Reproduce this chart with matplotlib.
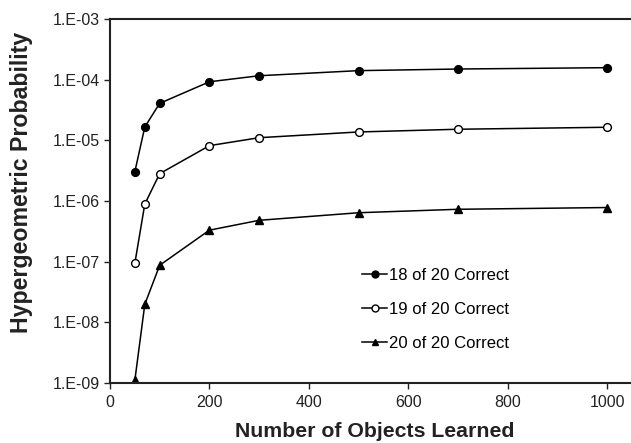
import matplotlib
matplotlib.use("Agg")
import matplotlib.pyplot as plt
from matplotlib.ticker import FixedLocator, NullLocator

plt.rcParams['font.family'] = ['Liberation Sans', 'DejaVu Sans']

objects = [50, 70, 100, 200, 300, 500, 700, 1000]
p18 = [3.05e-6, 1.67e-5, 4.1e-5, 9.3e-5, 1.17e-4, 1.42e-4, 1.51e-4, 1.59e-4]
p19 = [9.4e-8, 8.9e-7, 2.83e-6, 8.2e-6, 1.11e-5, 1.38e-5, 1.53e-5, 1.65e-5]
p20 = [1.1e-9, 1.97e-8, 8.7e-8, 3.3e-7, 4.8e-7, 6.4e-7, 7.3e-7, 7.8e-7]
labels = ["18 of 20 Correct", "19 of 20 Correct", "20 of 20 Correct"]
xticks = [0, 200, 400, 600, 800, 1000]
yticks = [1e-9, 1e-8, 1e-7, 1e-6, 1e-5, 1e-4, 1e-3]
ytick_labels = ["1.E-09", "1.E-08", "1.E-07", "1.E-06", "1.E-05", "1.E-04", "1.E-03"]

fig = plt.figure(figsize=(6.31, 4.43), dpi=100)
ax = fig.add_axes([110/631, 1-382.7/443, 520/631, (382.7-19.3)/443])

lw = 1.1
ax.plot(objects, p18, '-', color='black', lw=lw, marker='o', ms=5.6,
        mfc='black', mec='black', label=labels[0])
ax.plot(objects, p19, '-', color='black', lw=lw, marker='o', ms=5.6,
        mfc='white', mec='black', mew=1.0, label=labels[1])
ax.plot(objects, p20, '-', color='black', lw=lw, marker='^', ms=5.8,
        mfc='black', mec='black', label=labels[2])

ax.set_yscale('log')
ax.set_ylim(1e-9, 1e-3)
ax.set_xlim(0, 1046)
ax.xaxis.set_major_locator(FixedLocator(xticks))
ax.yaxis.set_major_locator(FixedLocator(yticks))
ax.yaxis.set_minor_locator(NullLocator())
ax.set_yticklabels(ytick_labels)
ax.set_xticklabels([str(v) for v in xticks])

for s in ['left', 'bottom', 'top']:
    ax.spines[s].set_linewidth(1.5)
    ax.spines[s].set_color('#222222')
ax.spines['right'].set_visible(False)
ax.tick_params(axis='both', direction='out', length=4, width=1.0,
               labelsize=11.5, colors='#222222', pad=3)
ax.tick_params(axis='x', pad=5)

ax.set_xlabel("Number of Objects Learned", fontsize=15.3, fontweight='bold', color='#222222')
ax.set_ylabel("Hypergeometric Probability", fontsize=16.7, fontweight='bold', color='#222222')
ax.xaxis.set_label_coords(0.51, -0.108)
ax.yaxis.set_label_coords(-0.148, 0.552)

leg = ax.legend(loc='upper left', bbox_to_anchor=(0.472, 0.335), frameon=False,
                fontsize=12, handlelength=1.5, handletextpad=0.1,
                labelspacing=1.15, borderaxespad=0)
for h in leg.legend_handles:
    h.set_markersize(5)

fig.savefig("out.png", dpi=100)
